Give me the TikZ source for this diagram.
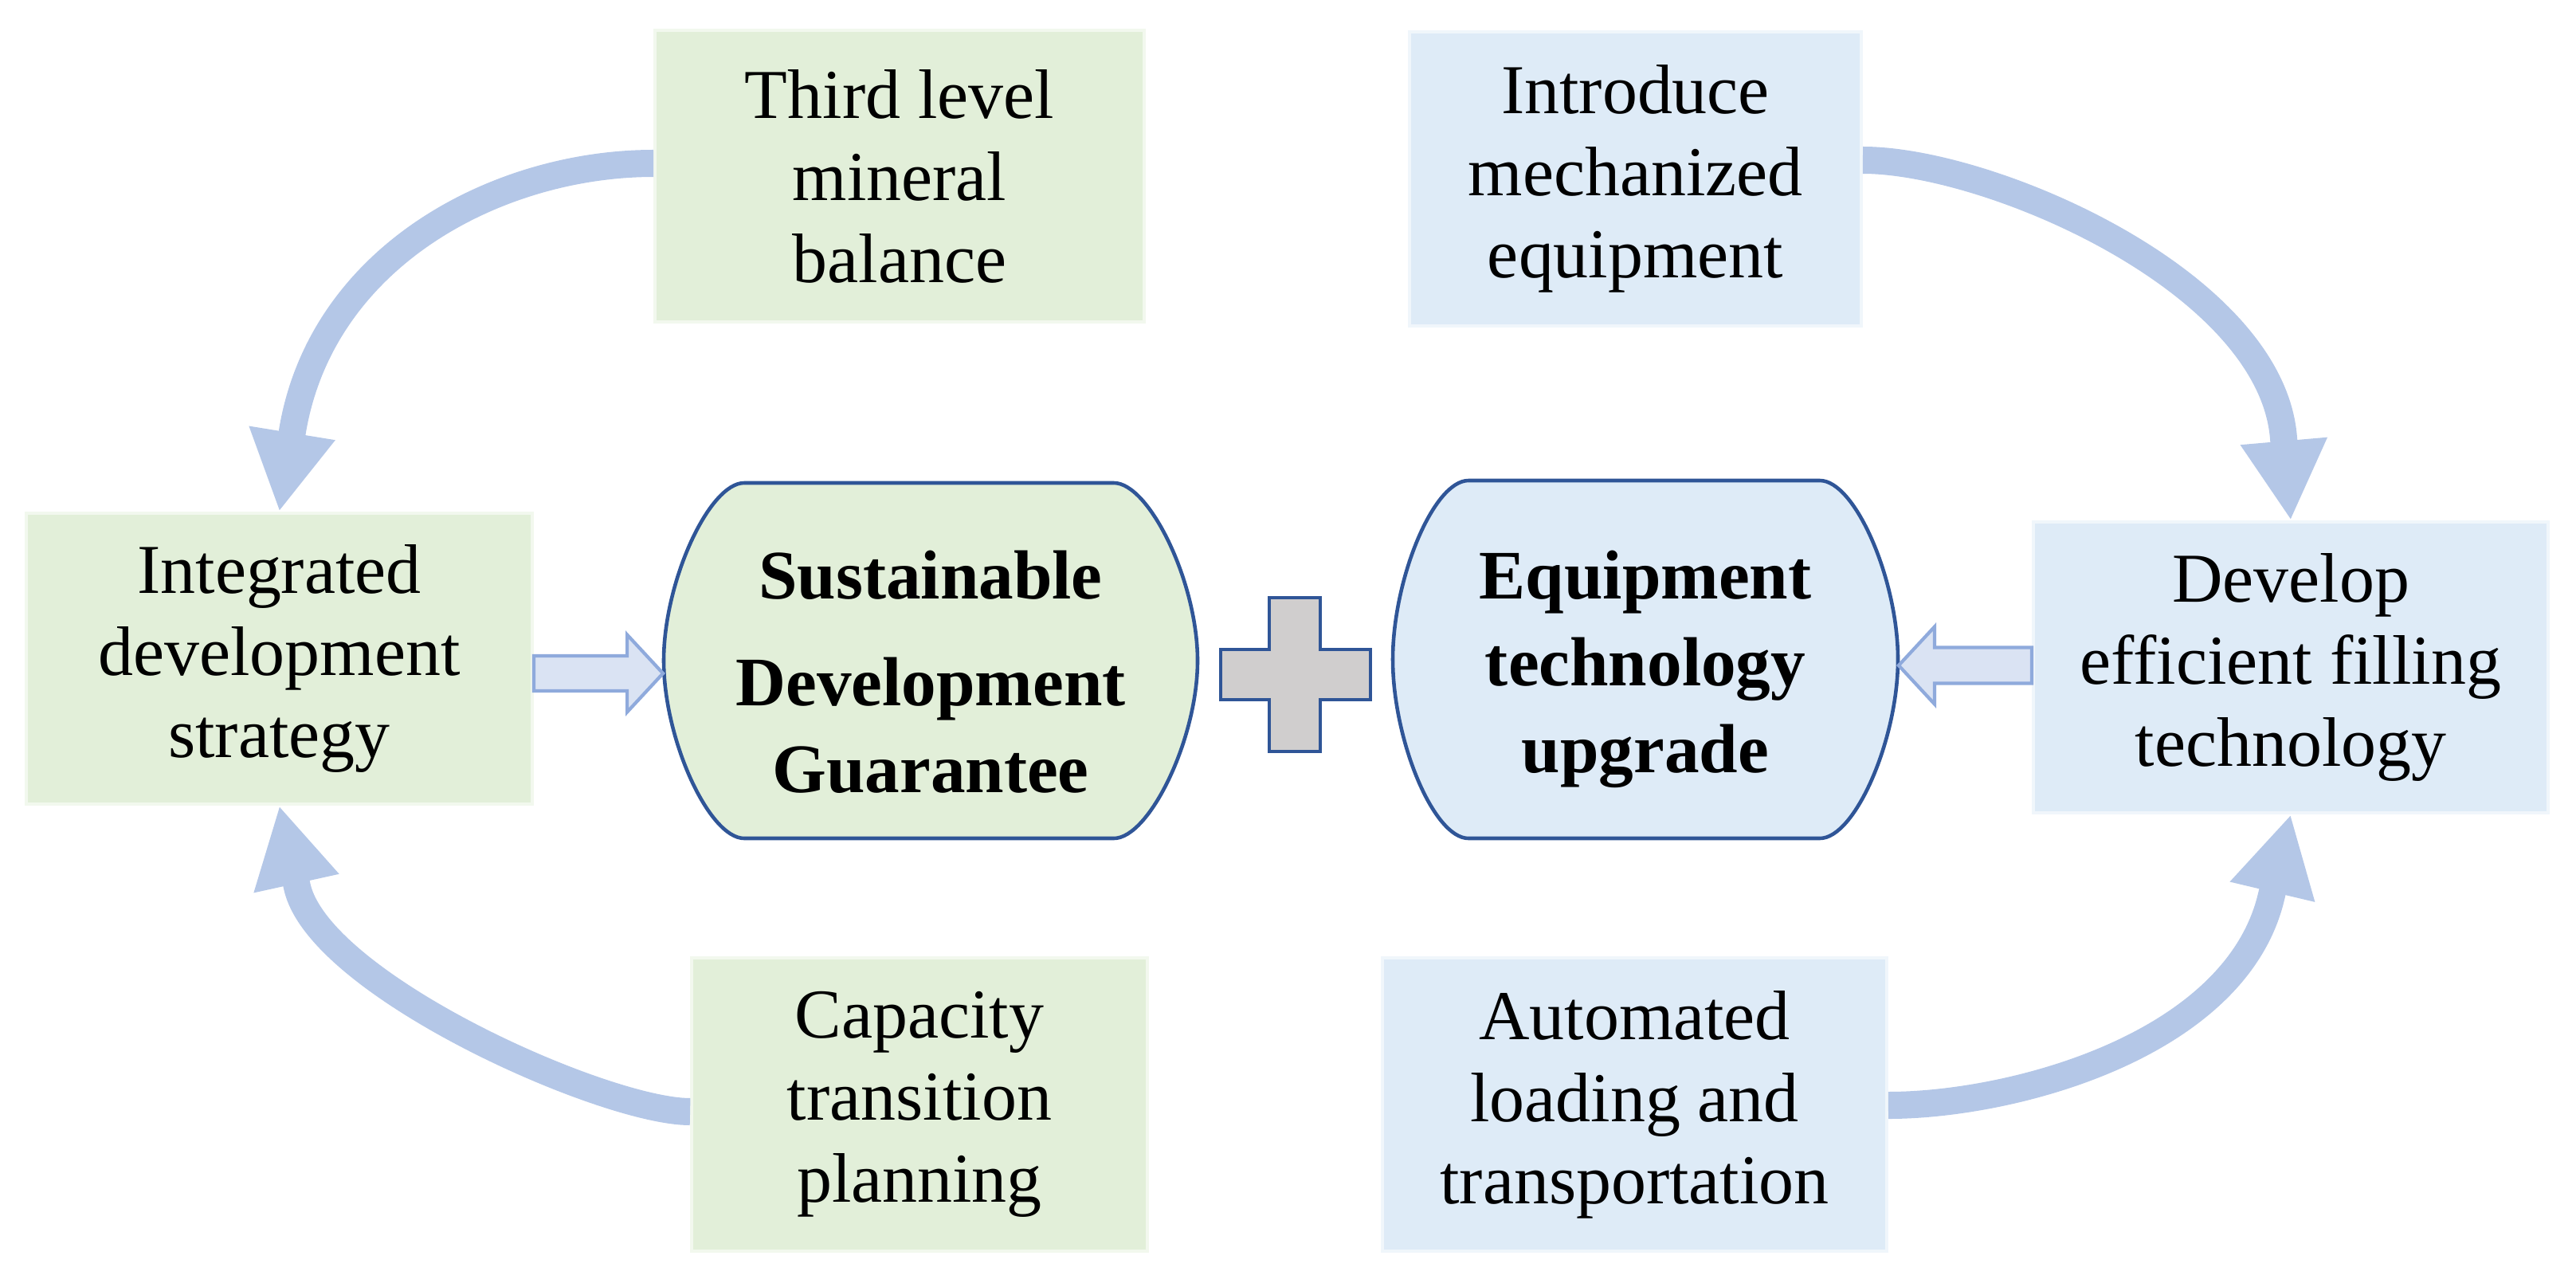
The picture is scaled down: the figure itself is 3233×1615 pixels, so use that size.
\documentclass[tikz,border=0pt]{standalone}
\usepackage{fontspec}
\setmainfont{Liberation Serif}
\usetikzlibrary{arrows.meta,calc}
\definecolor{gfill}{HTML}{E2EFD9}
\definecolor{bfill}{HTML}{DEEBF7}
\definecolor{dblue}{HTML}{2F5597}
\definecolor{ablue}{HTML}{B4C7E7}
\definecolor{hfill}{HTML}{DAE3F3}
\definecolor{hline}{HTML}{8FAADC}
\definecolor{pfill}{HTML}{D0CECE}
\begin{document}
\begin{tikzpicture}[x=0.01cm,y=-0.01cm,
  txt/.style={font=\fontsize{25}{29.3}\selectfont, align=center, inner sep=0pt},
  gbox/.style={txt, rectangle, fill=gfill, draw=gfill!45!white, line width=1pt},
  bbox/.style={txt, rectangle, fill=bfill, draw=bfill!45!white, line width=1pt},
  core/.style={align=center, inner sep=0pt, rectangle, draw=none, font=\fontsize{24.8}{31}\selectfont\bfseries},
  outline/.style={draw=dblue, line width=1.3pt},
  curvarrow/.style={draw=ablue, line width=0.34cm, line join=round, -{Triangle[width=1.02cm,length=1.0cm]}},
  hollow/.style={fill=hfill, draw=hline, line width=1.2pt, line join=miter},
]
\useasboundingbox (0,0) rectangle (3233,1615);

% outer boxes
\node[gbox, minimum width=6.14cm, minimum height=3.66cm] (third) at (1129,221) {Third level\\mineral\\balance};
\node[bbox, minimum width=5.67cm, minimum height=3.69cm] (intro) at (2052.5,224.5) {Introduce\\mechanized\\equipment};
\node[gbox, minimum width=6.35cm, minimum height=3.65cm] (integ) at (350.5,826.5) {Integrated\\development\\strategy};
\node[bbox, minimum width=6.46cm, minimum height=3.65cm] (dev) at (2875,837.5) {Develop\\efficient filling\\technology};
\node[gbox, minimum width=5.72cm, minimum height=3.68cm] (cap) at (1154,1386) {Capacity\\transition\\planning};
\node[bbox, minimum width=6.33cm, minimum height=3.68cm] (auto) at (2051.5,1386) {Automated\\loading and\\transportation};

% central shapes
\path[outline, fill=gfill] (934,606) -- (1398,606)
  .. controls (1442,606) and (1503,730) .. (1503,829)
  .. controls (1503,928) and (1442,1052) .. (1398,1052) -- (934,1052)
  .. controls (890,1052) and (833,928) .. (833,829)
  .. controls (833,730) and (890,606) .. (934,606) -- cycle;
\node[core, minimum width=6.70cm, minimum height=4.46cm, text depth=0pt] (sus) at (1168,829) {};
\node[core] (sustxt) at (1168,843) {Sustainable\\[7pt]Development\\Guarantee};

\path[outline, fill=bfill] (1843,603) -- (2284,603)
  .. controls (2328,603) and (2382,727) .. (2382,827.5)
  .. controls (2382,928) and (2328,1052) .. (2284,1052) -- (1843,1052)
  .. controls (1799,1052) and (1748,928) .. (1748,827.5)
  .. controls (1748,727) and (1799,603) .. (1843,603) -- cycle;
\node[core, minimum width=6.34cm, minimum height=4.49cm] (equ) at (2065,827.5) {};
\node[core] (equtxt) at (2065,840) {Equipment\\technology\\upgrade};

% plus sign
\path[draw=dblue, line width=1.4pt, fill=pfill, line join=miter]
  (1593,750) -- (1657,750) -- (1657,815) -- (1720,815) -- (1720,878) -- (1657,878)
  -- (1657,943) -- (1593,943) -- (1593,878) -- (1532,878) -- (1532,815) -- (1593,815) -- cycle;

% hollow block arrows
\coordinate (la1) at ($(integ.east)+(0,18.5)$);
\coordinate (la2) at (sus.west |- la1);
\path[hollow] ($(la1)+(0,-22)$) -- ($(la2)+(-45,-22)$) -- ($(la2)+(-45,-48.5)$) -- (la2)
  -- ($(la2)+(-45,48.5)$) -- ($(la2)+(-45,22)$) -- ($(la1)+(0,22)$) -- cycle;
\coordinate (ra1) at ($(dev.west)+(0,-2.5)$);
\coordinate (ra2) at (equ.east |- ra1);
\path[hollow] ($(ra1)+(0,-22.5)$) -- ($(ra2)+(45,-22.5)$) -- ($(ra2)+(45,-48.5)$) -- (ra2)
  -- ($(ra2)+(45,48.5)$) -- ($(ra2)+(45,22.5)$) -- ($(ra1)+(0,22.5)$) -- cycle;

% curved arrows
\draw[curvarrow] ($(third.west)+(0,-16)$) .. controls (626,205) and (404,320) .. (367,541) -- (integ.north);
\draw[curvarrow] ($(intro.east)+(0,-23.5)$) .. controls (2498,201) and (2851,354) .. (2866,550) -- (dev.north);
\draw[curvarrow] ($(cap.west)+(0,9)$) .. controls (758,1395) and (401,1236) .. (373,1113) -- (integ.south);
\draw[curvarrow] ($(auto.east)+(0,1)$) .. controls (2526,1387) and (2808,1312) .. (2851,1123) -- (dev.south);
\end{tikzpicture}
\end{document}
